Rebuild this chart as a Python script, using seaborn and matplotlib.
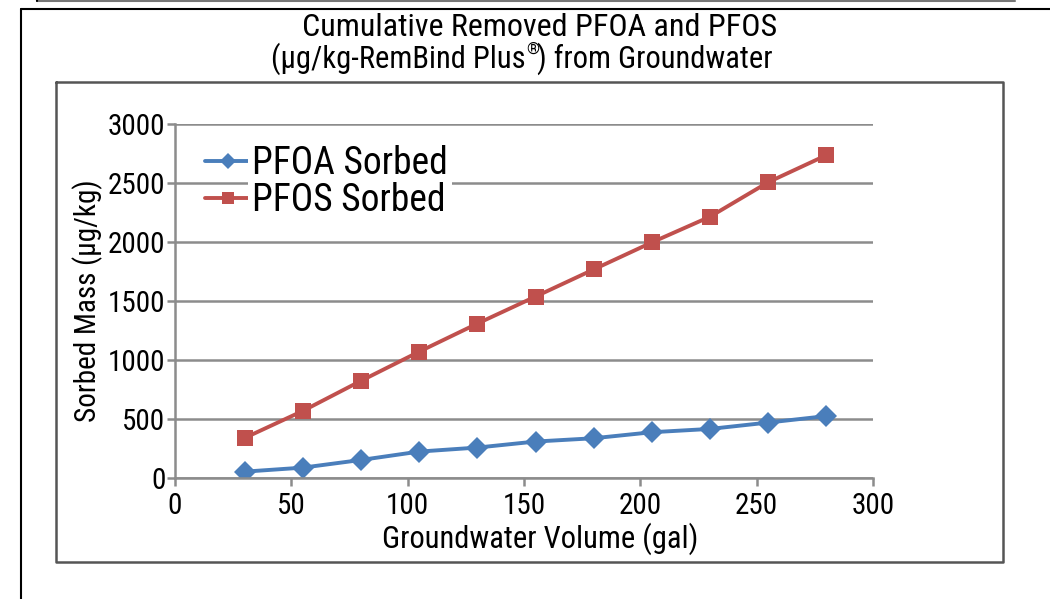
import matplotlib
matplotlib.use("Agg")
import matplotlib.pyplot as plt
from matplotlib.lines import Line2D
import seaborn as sns
import pandas as pd

volume_gal = [30, 55, 80, 105, 130, 155, 180, 205, 230, 255, 280]
pfoa_sorbed = [54, 88, 153, 224, 258, 309, 337, 388, 416, 470, 525]
pfos_sorbed = [340, 569, 824, 1071, 1309, 1538, 1768, 1997, 2215, 2507, 2736]
series_names = ["PFOA Sorbed", "PFOS Sorbed"]
x_ticks = [0, 50, 100, 150, 200, 250, 300]
y_ticks = [0, 500, 1000, 1500, 2000, 2500, 3000]

df = pd.DataFrame({
    "Volume": volume_gal * 2,
    "Mass": pfoa_sorbed + pfos_sorbed,
    "Series": [series_names[0]] * len(volume_gal) + [series_names[1]] * len(volume_gal),
})

sns.set_style("white")
plt.rcParams["font.family"] = ["Roboto Condensed", "Roboto", "DejaVu Sans"]
plt.rcParams["text.color"] = "black"
plt.rcParams["axes.labelcolor"] = "black"

W, H = 1050, 599
fig = plt.figure(figsize=(10.5, 5.99), dpi=100)
ax = fig.add_axes([175 / W, 1 - 478 / H, (873 - 175) / W, (478 - 124) / H])

palette = {series_names[0]: "#4A7EBB", series_names[1]: "#C0504D"}
sns.lineplot(data=df, x="Volume", y="Mass", hue="Series", style="Series",
             markers={series_names[0]: "D", series_names[1]: "s"},
             dashes=False, palette=palette, linewidth=2.8, markersize=11,
             markeredgewidth=0, ax=ax, legend=False)

ax.set_xlim(0, 300)
ax.set_ylim(0, 3000)
ax.set_xticks(x_ticks)
ax.set_yticks(y_ticks)
ax.yaxis.grid(True, color="#8C8C8C", linewidth=1.8)
ax.xaxis.grid(False)
ax.set_axisbelow(True)
for s in ["top", "right"]:
    ax.spines[s].set_visible(False)
for s in ["left", "bottom"]:
    ax.spines[s].set_color("#8C8C8C")
    ax.spines[s].set_linewidth(1.8)
ax.tick_params(axis="both", which="major", length=6, width=1.8, color="#8C8C8C",
               labelsize=21, labelcolor="black", pad=1, direction="out")
ax.tick_params(axis="x", bottom=True, pad=4)
ax.tick_params(axis="y", left=True)

ax.set_xlabel("Groundwater Volume (gal)", fontsize=22)
ax.xaxis.set_label_coords(0.523, -0.125)
ax.set_ylabel("Sorbed Mass (µg/kg)", fontsize=21)
ax.yaxis.set_label_coords(-0.103, 0.5)

handles = [Line2D([], [], color=palette[n], marker=m, markersize=ms, linewidth=2.8,
                  markeredgewidth=0)
           for n, m, ms in zip(series_names, ["D", "s"], [8, 9])]
leg = ax.legend(handles, series_names, loc="upper left", bbox_to_anchor=(0.043, 0.94),
                fontsize=27, frameon=False, handlelength=1.2, handletextpad=0.06,
                labelspacing=0.0, borderpad=0.0, borderaxespad=0)
for t in leg.get_texts():
    t.set_bbox(dict(facecolor="white", edgecolor="none", pad=3))

fig.text(540 / W, 1 - 28 / H, "Cumulative Removed PFOA and PFOS",
         ha="center", va="center", fontsize=23)
fig.text(526 / W, 1 - 59 / H, "(µg/kg-RemBind Plus", ha="right", va="center", fontsize=22)
fig.text(526 / W, 1 - 49 / H, "®", ha="left", va="center", fontsize=12)
fig.text(537 / W, 1 - 59 / H, ") from Groundwater", ha="left", va="center", fontsize=22)

def fl(xs, ys, color, lw):
    fig.add_artist(Line2D([x / W for x in xs], [1 - y / H for y in ys],
                          color=color, linewidth=lw, transform=fig.transFigure))

# inner chart frame
fl([56, 1003, 1003, 56, 56], [82, 82, 562, 562, 82], "#555555", 1.8)
# outer black frame
fl([21, 21], [599, 9], "black", 1.5)
fl([21, 1050], [9, 9], "black", 1.5)
# remnants of box above
fl([37, 1015], [1, 1], "#777777", 1.5)
fl([37, 37], [0, 1], "black", 1.5)

fig.savefig("out.png", dpi=100)
